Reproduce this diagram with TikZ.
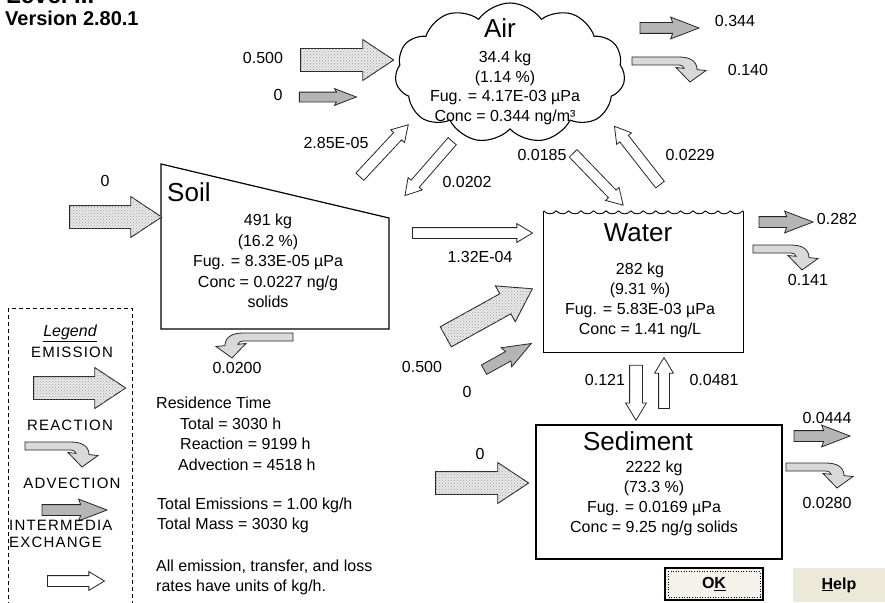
\documentclass[tikz,border=0pt]{standalone}
\usepackage{fontspec}
\setmainfont{Liberation Sans}
\usetikzlibrary{shapes.arrows,shapes.symbols,patterns}

\definecolor{okbg}{HTML}{F4F2EA}
\definecolor{helpbg}{HTML}{ECE9D8}

\tikzset{
  reactfill/.style={draw=black!85, line width=0.8pt, fill=gray!30},
  pics/react/.style={code={
    \draw[reactfill] (0,0) -- (#1,0) .. controls (#1+12,0) and (#1+18,5) .. (#1+18,12.6)
      -- (#1+27,13.5) -- (#1+11,25) -- (#1-3,10.5) -- (#1+5,11.3)
      .. controls (#1+4,9) .. (#1,8) -- (0,8) -- cycle;
  }}
}

\begin{document}
\begin{tikzpicture}[x=1pt, y=-1pt, font=\fontsize{16}{19.5}\selectfont,
    emis/.style={single arrow, draw=black!85, line width=0.9pt, fill=gray!18,
      postaction={pattern=crosshatch dots, pattern color=gray!75},
      inner sep=0pt, inner ysep=11pt, minimum width=40pt,
      single arrow head extend=9pt, single arrow tip angle=67},
    adv/.style={single arrow, draw=black!85, line width=0.8pt, fill=gray!58,
      inner sep=0pt, inner ysep=5pt, minimum width=21pt,
      single arrow head extend=5.5pt, single arrow tip angle=42, single arrow head indent=2pt},
    exch/.style={single arrow, draw=black!85, line width=0.8pt, fill=white,
      inner sep=0pt, inner ysep=5pt, minimum width=18pt,
      single arrow head extend=4pt, single arrow tip angle=62},
    box/.style={draw, line width=1.2pt},
    big/.style={inner sep=0pt, font=\fontsize{26}{30}\selectfont},
    lbl/.style={inner sep=0pt},
    caps/.style={inner sep=0pt, font=\fontsize{15}{17}\selectfont\addfontfeature{LetterSpace=8}}]
  \useasboundingbox (0,0) rectangle (885,602);
  \clip (0,0) rectangle (885,602);

  \node[anchor=base west, inner sep=0pt, font=\bfseries\fontsize{24}{26}\selectfont] (lvl) at (6,4) {Level III};
  \node[anchor=west, inner sep=0pt, font=\bfseries\fontsize{20}{24}\selectfont] (ver) at (5,18) {Version 2.80.1};

  % compartments
  \node[cloud, draw, line width=1.1pt, cloud puffs=11, cloud puff arc=110, cloud ignores aspect,
        minimum width=230pt, minimum height=140pt, inner sep=0pt] (air) at (510,73) {};
  \node[big] (airlbl) at (500,28) {Air};
  \node[lbl, align=center] (airtxt) at (505,88) {34.4 kg\\(1.14 \%)\\Fug. = 4.17E-03 µPa\\Conc = 0.344 ng/m³};

  \draw[box] (161,164) -- (389,218) -- (389,329) -- (161,329) -- cycle;
  \node[big, anchor=west] (soillbl) at (167,192) {Soil};
  \node[lbl, align=center, font=\fontsize{16}{20.5}\selectfont] (soiltxt) at (268,261)
    {491 kg\\(16.2 \%)\\Fug. = 8.33E-05 µPa\\Conc = 0.0227 ng/g\\solids};

  \node[minimum width=199pt, minimum height=141pt, inner sep=0pt] (water) at (643.5,281.5) {};
  \draw[box] (water.north west) -- (water.south west) -- (water.south east) -- (water.north east);
  \foreach \i in {0,...,15}
    \draw[line width=0.9pt] ([xshift=\i*12.4375pt]water.north west) .. controls +(3,4) and +(-3,4) .. ++(12.4375,0);
  \node[big] (waterlbl) at (638,233) {Water};
  \node[lbl, align=center, font=\fontsize{16}{20}\selectfont] (watertxt) at (640,300)
    {282 kg\\(9.31 \%)\\Fug. = 5.83E-03 µPa\\Conc = 1.41 ng/L};

  \node[box, minimum width=246pt, minimum height=134pt, inner sep=0pt] (sed) at (659,492) {};
  \node[big] (sedlbl) at (638,441) {Sediment};
  \node[lbl, align=center, font=\fontsize{16}{20}\selectfont] (sedtxt) at (654,498)
    {2222 kg\\(73.3 \%)\\Fug. = 0.0169 µPa\\Conc = 9.25 ng/g solids};

  % emissions
  \node[emis, minimum height=93pt] (airE) at (338.5,60) {};
  \node[emis, minimum height=92pt] (soilE) at (107,217) {};
  \node[emis, minimum height=93pt] (sedE) at (473.5,483) {};
  \node[emis, minimum height=99pt, rotate=29] (waterE) at (481.5,317) {};

  % advection
  \node[adv, minimum height=57pt, inner ysep=4.5pt, minimum width=16pt, single arrow head extend=3.5pt] (airAin) at (321.5,97) {};
  \node[adv, minimum height=59pt] (airAout) at (662.5,28) {};
  \node[adv, minimum height=54pt] (waterAout) at (779,222) {};
  \node[adv, minimum height=56pt] (sedAout) at (815,436) {};
  \node[adv, minimum height=54pt, rotate=29] (waterAin) at (501.5,360) {};

  % reaction
  \pic (airR) at (632,57) {react=47};
  \pic (waterR) at (753,245) {react=38};
  \pic (sedR) at (786,463) {react=40};
  \pic[xscale=-1] (soilR) at (293,333) {react=50};

  % intermedia exchange
  \node[exch, minimum height=72pt, rotate=229] (airsoil) at (431.5,165) {};
  \node[exch, minimum height=71pt, rotate=47] (soilair) at (381,154) {};
  \node[exch, minimum height=72pt, rotate=-46] (airwater) at (595,176) {};
  \node[exch, minimum height=74pt, rotate=128] (waterair) at (640,159) {};
  \node[exch, minimum height=120pt] (soilwater) at (468,233) {};
  \node[exch, minimum height=55pt, rotate=-90, inner ysep=6pt, minimum width=20pt] (watersed) at (636,387.5) {};
  \node[exch, minimum height=51pt, rotate=90] (sedwater) at (664,387.5) {};

  % rates
  \node[lbl] (v1) at (263,58) {0.500};
  \node[lbl] (v2) at (278,95) {0};
  \node[lbl] (v3) at (735,21) {0.344};
  \node[lbl] (v4) at (748,70) {0.140};
  \node[lbl] (v5) at (105,181) {0};
  \node[lbl] (v6) at (336,143) {2.85E-05};
  \node[lbl] (v7) at (467,182) {0.0202};
  \node[lbl] (v8) at (542,155) {0.0185};
  \node[lbl] (v9) at (690,155) {0.0229};
  \node[lbl] (v10) at (480,257) {1.32E-04};
  \node[lbl] (v11) at (837,219) {0.282};
  \node[lbl] (v12) at (808,280) {0.141};
  \node[lbl] (v13) at (237,368) {0.0200};
  \node[lbl] (v14) at (422,367) {0.500};
  \node[lbl] (v15) at (467,392) {0};
  \node[lbl] (v16) at (480,454) {0};
  \node[lbl] (v17) at (605,380) {0.121};
  \node[lbl] (v18) at (714,380) {0.0481};
  \node[lbl] (v19) at (827,418) {0.0444};
  \node[lbl] (v20) at (827,503) {0.0280};

  % summary
  \node[lbl, anchor=west, align=left, font=\fontsize{16}{20.5}\selectfont] (res) at (156,434)
    {Residence Time\\\hspace*{24pt}Total = 3030 h\\\hspace*{24pt}Reaction = 9199 h\\\hspace*{22pt}Advection = 4518 h};
  \node[lbl, anchor=west, align=left, font=\fontsize{16}{20}\selectfont] (tot) at (157,515)
    {Total Emissions = 1.00 kg/h\\Total Mass = 3030 kg};
  \node[lbl, anchor=west, align=left, font=\fontsize{16}{20}\selectfont] (note) at (156,577)
    {All emission, transfer, and loss\\rates have units of kg/h.};

  % legend
  \draw[dash pattern=on 4pt off 3pt, line width=0.9pt] (8,308) rectangle (132,615);
  \node[lbl] (leg) at (70,333) {\textit{\underline{Legend}}};
  \node[caps] (legE) at (72,352) {EMISSION};
  \node[emis, minimum height=92pt] (legEarr) at (71,388) {};
  \node[caps] (legR) at (70,425) {REACTION};
  \pic (legRarr) at (25,442) {react=46};
  \node[caps] (legA) at (72,483) {ADVECTION};
  \node[adv, minimum height=65pt] (legAarr) at (67.5,510) {};
  \node[caps, anchor=west, align=left] (legX) at (9,533.5) {INTERMEDIA\\EXCHANGE};
  \node[exch, minimum height=57pt] (legXarr) at (71.5,581) {};

  % buttons
  \node[draw, line width=1.6pt, fill=okbg, minimum width=98pt, minimum height=32pt,
        font=\bfseries\fontsize{16}{19}\selectfont] (ok) at (714,584) {O\underline{K}};
  \draw[dotted, line width=0.6pt] ([shift={(4pt,-4pt)}]ok.north west) rectangle ([shift={(-4pt,4pt)}]ok.south east);
  \node[fill=helpbg, minimum width=92pt, minimum height=34pt,
        font=\bfseries\fontsize{16}{19}\selectfont] (help) at (839,585) {\underline{H}elp};
\end{tikzpicture}
\end{document}
